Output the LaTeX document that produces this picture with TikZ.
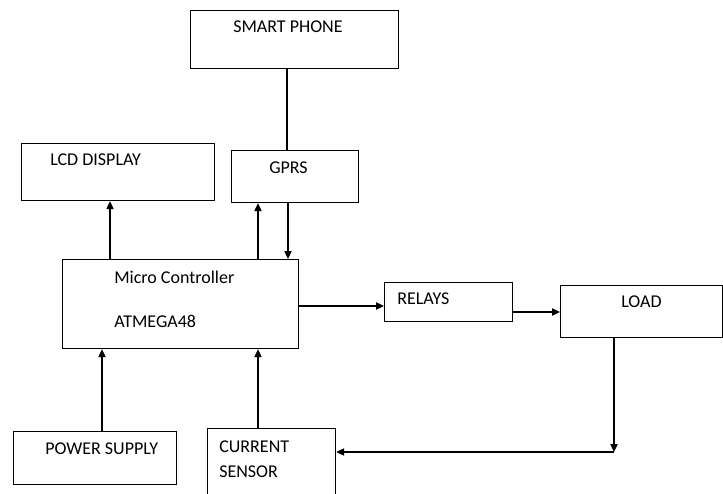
\documentclass[tikz,border=0pt]{standalone}
\usepackage{fontspec}
\setmainfont{Carlito}
\usetikzlibrary{arrows.meta}

\begin{document}
\begin{tikzpicture}[x=0.75pt,y=0.75pt,yscale=-1,xscale=1,
  blk/.style={draw, line width=0.9pt, inner sep=0pt, anchor=north west},
  lbl/.style={anchor=west, inner sep=0.75pt, font=\fontsize{13.5}{16}\selectfont},
  arr/.style={-{Triangle[length=6pt,width=5.5pt]}, line width=0.8pt}]
\useasboundingbox (0,0) rectangle (723,493);

%Blocks
\node (phone) [blk, minimum width=156pt, minimum height=43.5pt] at (190,10) {};
\node (gprs) [blk, minimum width=95.25pt, minimum height=39pt] at (231,150) {};
\node (lcd) [blk, minimum width=144.75pt, minimum height=42.75pt] at (21,143) {};
\node (mc) [blk, minimum width=177pt, minimum height=66.75pt] at (62,259) {};
\node (relays) [blk, minimum width=96pt, minimum height=29.25pt] at (384,282) {};
\node (load) [blk, minimum width=121.5pt, minimum height=39pt] at (560,285) {};
\node (power) [blk, minimum width=122.25pt, minimum height=39.75pt] at (13,431) {};
\node (sensor) [blk, minimum width=96pt, minimum height=61.5pt] at (207,428) {};

%Texts
\node (phonetxt) [lbl] at (232,27) {SMART PHONE};
\node (gprstxt) [lbl] at (268,168) {GPRS};
\node (lcdtxt) [lbl] at (49,160) {LCD DISPLAY};
\node (mctxt1) [lbl] at (113,277) {Micro Controller};
\node (mctxt2) [lbl] at (113,321) {ATMEGA48};
\node (relaystxt) [lbl] at (396,299) {RELAYS};
\node (loadtxt) [lbl] at (620,302) {LOAD};
\node (powertxt) [lbl] at (44,449) {POWER SUPPLY};
\node (sensortxt1) [lbl] at (218,447) {CURRENT};
\node (sensortxt2) [lbl] at (218,472) {SENSOR};

%Connectors
\draw [line width=0.8pt] (phone.south -| 287,0) -- (gprs.north -| 287,0);
\draw [arr] (mc.north -| 110,0) -- (lcd.south -| 110,0);
\draw [arr] (mc.north -| 258,0) -- (gprs.south -| 258,0);
\draw [arr] (gprs.south -| 288,0) -- (mc.north -| 288,0);
\draw [arr] (mc.east |- 0,306) -- (relays.west |- 0,306);
\draw [arr] (relays.east |- 0,312) -- (load.west |- 0,312);
\coordinate (corner) at (614,452);
\draw [arr] (load.south -| corner) -- (corner);
\draw [arr] (corner) -- (sensor.east |- corner);
\draw [arr] (power.north -| 102,0) -- (mc.south -| 102,0);
\draw [arr] (sensor.north -| 258,0) -- (mc.south -| 258,0);

\end{tikzpicture}
\end{document}
